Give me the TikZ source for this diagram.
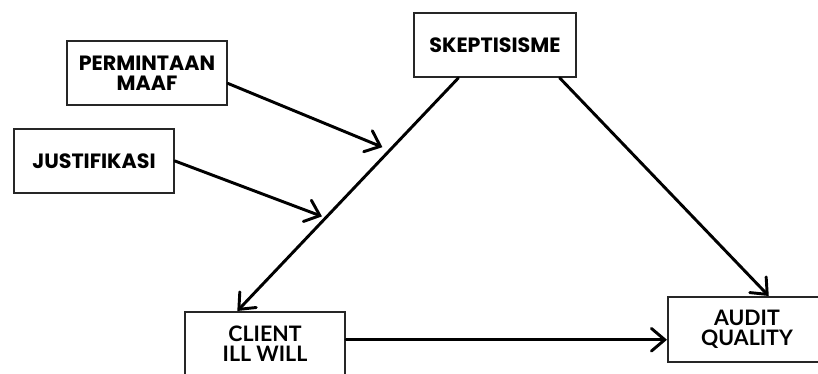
\documentclass[tikz,border=0pt]{standalone}
\usepackage{fontspec}
\newfontfamily\popfont{Poppins}
\newfontfamily\latofont{Lato}
\usetikzlibrary{arrows.meta, positioning}

\begin{document}
\begin{tikzpicture}[x=0.75pt, y=-0.75pt,
      every node/.style={inner sep=0pt},
      varbox/.style={draw=black!85, line width=1.5pt, minimum width=120pt, minimum height=48pt, align=center},
      topbox/.style={varbox, font=\popfont\bfseries\fontsize{15.5}{15}\selectfont},
      lowbox/.style={varbox, font=\latofont\bfseries\fontsize{16}{15}\selectfont},
      arr/.style={-{Straight Barb[length=10pt, width=17pt, line cap=round]}, line width=2.2pt, line cap=round}]
    \useasboundingbox (0,0) rectangle (818,374);
    \node[topbox] (maaf) at (147,73.5) {PERMINTAAN\\MAAF};
    \node[topbox] (just) at (94,161) {JUSTIFIKASI};
    \node[topbox, minimum width=121.5pt] (skep) at (495,45) {SKEPTISISME};
    \node[lowbox] (client) at (265,344) {CLIENT\\ILL WILL};
    \node[lowbox, minimum width=118.5pt, minimum height=48.75pt] (audit) at (747,329.5) {AUDIT\\QUALITY};
    % mediating paths
    \draw[arr] (skep.222) -- (client.130)
      coordinate[pos=0.31] (hitA) coordinate[pos=0.6] (hitB);
    \draw[arr] (skep.333) -- (audit.57);
    \draw[arr] (client.3) -- (client.3 -| audit.west);
    % moderators
    \draw[arr, shorten >=6pt] (maaf.-7) -- (hitA);
    \draw[arr, shorten >=3pt] (just.east) -- (hitB);
  \end{tikzpicture}
\end{document}
